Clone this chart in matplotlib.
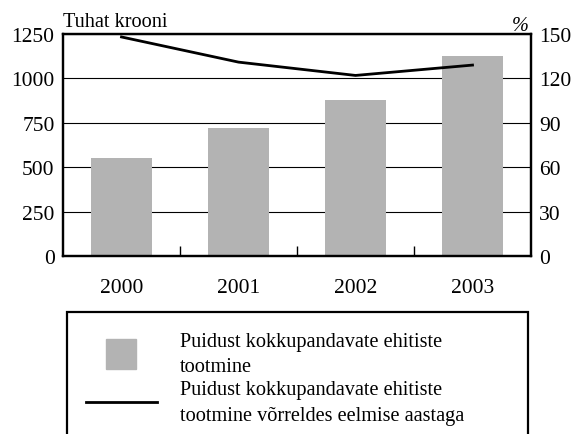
import matplotlib
matplotlib.use("Agg")
import matplotlib.pyplot as plt
import matplotlib.patches as mpatches
from matplotlib.lines import Line2D
from matplotlib.legend_handler import HandlerPatch
from matplotlib.ticker import FixedLocator

years = ["2000", "2001", "2002", "2003"]
production = [550, 720, 876, 1124]          # Tuhat krooni
change_pct = [148, 131, 122, 129]           # %
left_ticks = [0, 250, 500, 750, 1000, 1250]
right_ticks = [0, 30, 60, 90, 120, 150]
label_bar = "Puidust kokkupandavate ehitiste\ntootmine"
label_line = "Puidust kokkupandavate ehitiste\ntootmine võrreldes eelmise aastaga"

plt.rcParams['font.family'] = ['Liberation Serif', 'DejaVu Serif']
FS = 15.5
LFS = 14.6

fig = plt.figure(figsize=(5.74, 4.35), dpi=100)
ax = fig.add_axes([63/574, 1 - 257/435, (531-63)/574, (257-35)/435])

x = list(range(len(years)))
ax.bar(x, production, width=0.52, color='#b3b3b3', zorder=2)
ax.set_xlim(-0.5, 3.5)
ax.set_ylim(0, 1250)
ax.set_yticks(left_ticks)
ax.yaxis.grid(True, color='black', linewidth=0.8)
ax.set_axisbelow(True)
ax.set_xticks(x)
ax.set_xticklabels(years, fontsize=FS)
ax.xaxis.set_minor_locator(FixedLocator([0.5, 1.5, 2.5]))
ax.tick_params(axis='x', which='major', length=0, pad=16)
ax.tick_params(axis='x', which='minor', direction='in', length=7, width=1, color='black')
ax.tick_params(axis='y', length=0, pad=6, labelsize=FS)
for s in ax.spines.values():
    s.set_linewidth(1.6)

ax2 = ax.twinx()
ax2.plot(x, change_pct, color='black', linewidth=2.0, zorder=3)
ax2.set_ylim(0, 150)
ax2.set_yticks(right_ticks)
ax2.tick_params(axis='y', length=0, pad=6, labelsize=FS)
for s in ax2.spines.values():
    s.set_linewidth(1.6)

ax.text(0.0, 1.015, "Tuhat krooni", transform=ax.transAxes, ha='left', va='bottom', fontsize=LFS)
ax.text(0.995, 0.995, "%", transform=ax.transAxes, ha='right', va='bottom', fontsize=LFS, style='italic')

# legend frame (cut off at the bottom of the image)
frame = mpatches.Rectangle((67/574, -0.2), (528-67)/574, 0.2 + (435-313)/435,
                           transform=fig.transFigure, fill=False, edgecolor='black',
                           linewidth=1.6, clip_on=False)
fig.add_artist(frame)

def make_square(legend, orig_handle, xdescent, ydescent, width, height, fontsize):
    s = 21.6
    cx = -xdescent + width / 2
    cy = -ydescent + height / 2
    return mpatches.Rectangle((cx - s/2, cy - s/2), s, s)

h_bar = mpatches.Patch(color='#b3b3b3')
h_line = Line2D([], [], color='black', linewidth=2.0)
leg = fig.legend([h_bar, h_line], [label_bar, label_line],
                 loc='upper left', bbox_to_anchor=(86/574, 1 - 333/435),
                 frameon=False, fontsize=LFS, handlelength=3.5, handletextpad=1.15,
                 borderpad=0, borderaxespad=0, labelspacing=0.2,
                 handler_map={mpatches.Patch: HandlerPatch(patch_func=make_square)})
for t in leg.get_texts():
    t.set_linespacing(1.45)

fig.savefig("out.png", dpi=100)
